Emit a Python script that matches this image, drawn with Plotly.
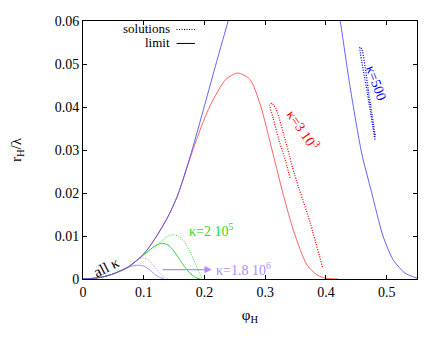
import plotly.graph_objects as go

# limit curves (solid)
blue_x = [0, 0.02, 0.036, 0.05, 0.0745, 0.10, 0.12, 0.14, 0.156, 0.178, 0.2004, 0.22, 0.239, 0.245,
          None, 0.42, 0.4236, 0.44, 0.459, 0.475, 0.494, 0.5106, 0.53, 0.55]
blue_y = [0, 0.0002, 0.0006, 0.0012, 0.0028, 0.0058, 0.0097, 0.0145, 0.0195, 0.0292, 0.0405, 0.0505, 0.060, 0.063,
          None, 0.063, 0.060, 0.0445, 0.0292, 0.0203, 0.0100, 0.0045, 0.0014, 0.0002]

red_x = [0, 0.02, 0.036, 0.05, 0.0745, 0.10, 0.12, 0.14, 0.156, 0.178, 0.195, 0.21, 0.235, 0.255,
         0.275, 0.292, 0.3127, 0.33, 0.347, 0.369, 0.385, 0.399, 0.42]
red_y = [0, 0.0002, 0.0006, 0.0012, 0.0028, 0.0058, 0.0097, 0.0145, 0.0195, 0.0288, 0.0355, 0.0405, 0.0464, 0.0479,
         0.0464, 0.0405, 0.0292, 0.0195, 0.0111, 0.0032, 0.0010, 0.0002, 0.0]

green_x = [0, 0.02, 0.036, 0.05, 0.0745, 0.09, 0.105, 0.118, 0.129, 0.14, 0.148, 0.156, 0.165, 0.175, 0.185, 0.193]
green_y = [0, 0.0002, 0.0006, 0.0012, 0.0028, 0.0045, 0.0062, 0.0076, 0.0083, 0.0079, 0.0068, 0.0052, 0.0033,
           0.0015, 0.0004, 0.0]

violet_x = [0, 0.02, 0.036, 0.05, 0.065, 0.078, 0.09, 0.1, 0.11, 0.12, 0.128, 0.134]
violet_y = [0, 0.0002, 0.0006, 0.0012, 0.0020, 0.0029, 0.0032, 0.0030, 0.0021, 0.0009, 0.0003, 0.0]

# solutions (dotted)
blue_sol_x = [0.4807, 0.468, 0.456, 0.459, 0.471, 0.4815]
blue_sol_y = [0.0324, 0.0435, 0.0539, 0.0535, 0.0428, 0.0330]

red_sol_x = [0.341, 0.332, 0.322, 0.313, 0.3075, 0.311, 0.318, 0.3355, 0.349, 0.3736, 0.395]
red_sol_y = [0.0235, 0.0282, 0.0326, 0.0375, 0.0405, 0.0409, 0.0395, 0.031, 0.0240, 0.0133, 0.0024]

green_sol_x = [0.105, 0.118, 0.128, 0.137, 0.148, 0.158, 0.168, 0.178, 0.188, 0.196]
green_sol_y = [0.0062, 0.0076, 0.0086, 0.0097, 0.0103, 0.0099, 0.0084, 0.0058, 0.0026, 0.0]

violet_sol_x = [0.078, 0.088, 0.098, 0.108, 0.117, 0.126, 0.134, 0.14]
violet_sol_y = [0.0030, 0.0043, 0.0049, 0.0045, 0.0030, 0.0014, 0.0004, 0.0]

BLUE = '#0000ff'
RED = '#ff0000'
GREEN = '#22dd22'
VIOLET = '#b38bff'
FONT = 'Times New Roman, Liberation Serif, serif'
DOT = '1px,1.5px'

fig = go.Figure()


def add(x, y, color, dotted=False, width=1.0):
    fig.add_trace(go.Scatter(x=x, y=y, mode='lines', line_shape='spline',
                             line=dict(color=color, width=width, dash=DOT if dotted else 'solid',
                                       smoothing=0.7),
                             connectgaps=False, showlegend=False, hoverinfo='skip'))


add(violet_x, violet_y, VIOLET)
add(violet_sol_x, violet_sol_y, VIOLET, True)
add(green_x, green_y, GREEN)
add(green_sol_x, green_sol_y, GREEN, True)
add(red_x, red_y, '#ff5050', width=0.9)
add(red_sol_x, red_sol_y, RED, True, 1.3)
add(blue_x, blue_y, '#5050ff', width=0.9)
add(blue_sol_x, blue_sol_y, BLUE, True, 1.3)

annotations = [
    dict(x=0.212, y=0.0022, ax=0.129, ay=0.0022, axref='x', ayref='y', xref='x', yref='y',
         showarrow=True, arrowhead=2, arrowsize=1.2, arrowwidth=1.2, arrowcolor=VIOLET, text=''),
    dict(x=0.265, y=0.0024, text='κ=1.8 10<sup>6</sup>', showarrow=False,
         font=dict(color=VIOLET, size=14, family=FONT)),
    dict(x=0.21, y=0.0113, text='κ=2 10<sup>5</sup>', showarrow=False,
         font=dict(color=GREEN, size=14, family=FONT)),
    dict(x=0.039, y=0.0028, text='all κ', showarrow=False, textangle=-27,
         font=dict(color='black', size=15, family=FONT)),
    dict(x=0.362, y=0.0348, text='κ=3 10<sup>3</sup>', showarrow=False, textangle=56,
         font=dict(color=RED, size=14, family=FONT)),
    dict(x=0.483, y=0.0455, text='κ=500', showarrow=False, textangle=70,
         font=dict(color=BLUE, size=14, family=FONT)),
    dict(x=0.265, y=0.972, xref='paper', yref='paper', text='solutions', showarrow=False,
         xanchor='right', yanchor='middle', font=dict(color='black', size=13, family=FONT)),
    dict(x=0.265, y=0.918, xref='paper', yref='paper', text='limit', showarrow=False,
         xanchor='right', yanchor='middle', font=dict(color='black', size=13, family=FONT)),
]

shapes = [
    dict(type='line', xref='paper', yref='paper', x0=0.28, x1=0.335, y0=0.967, y1=0.967,
         line=dict(color='black', width=1, dash=DOT)),
    dict(type='line', xref='paper', yref='paper', x0=0.28, x1=0.335, y0=0.913, y1=0.913,
         line=dict(color='black', width=1)),
]

axis_common = dict(showline=True, linecolor='black', linewidth=1, mirror='allticks',
                   ticks='inside', ticklen=4, tickcolor='black', showgrid=False, zeroline=False,
                   ticklabeloverflow='allow',
                   tickfont=dict(size=14, family=FONT, color='black'))

# page body has an 8px margin, so the figure is 16px smaller than the window
fig.update_layout(
    width=428, height=326,
    margin=dict(l=73, r=19, t=6, b=55),
    plot_bgcolor='white', paper_bgcolor='white',
    font=dict(family=FONT, size=14, color='black'),
    annotations=annotations, shapes=shapes,
    xaxis=dict(range=[0, 0.55], tickvals=[0, 0.1, 0.2, 0.3, 0.4, 0.5],
               ticktext=['0', '0.1', '0.2', '0.3', '0.4', '0.5'],
               title=dict(text='φ<sub>H</sub>', standoff=10, font=dict(size=15, family=FONT)),
               **axis_common),
    yaxis=dict(range=[0, 0.06], tickvals=[0, 0.01, 0.02, 0.03, 0.04, 0.05, 0.06],
               ticktext=['0', '0.01', '0.02', '0.03', '0.04', '0.05', '0.06'],
               title=dict(text='r<sub>H</sub>/λ', standoff=30, font=dict(size=15, family=FONT)),
               **axis_common),
)

fig.write_html("out.html")
